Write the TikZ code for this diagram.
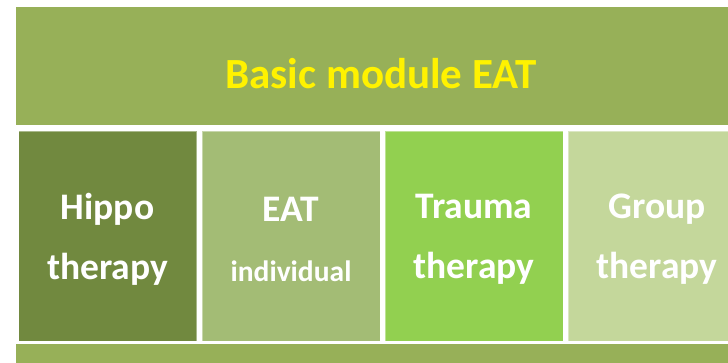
\documentclass[tikz,border=0pt]{standalone}
\usepackage{fontspec}
\setmainfont{Carlito}
\definecolor{bannergreen}{HTML}{97B058}
\definecolor{hippogreen}{HTML}{71893F}
\definecolor{eatgreen}{HTML}{A3BC75}
\definecolor{traumagreen}{HTML}{92D050}
\definecolor{groupgreen}{HTML}{C4D79B}
\begin{document}
\begin{tikzpicture}[x=1pt,y=1pt]
  \tikzset{
    tile/.style={shape=rectangle,minimum width=178pt,minimum height=210pt,inner sep=0pt,
      draw=white,draw opacity=0.4,line width=0.6pt},
    tiletext/.style={inner sep=0pt,text=white,align=center,
      font=\fontsize{37.5}{60}\selectfont\bfseries},
    band/.style={shape=rectangle,minimum width=730pt,inner sep=0pt,fill=bannergreen}
  }
  \useasboundingbox (0,0) rectangle (728,362);
  \clip (0,0) rectangle (728,362);
  % top banner
  \node[band,minimum height=118pt] (banner) at (381,296) {};
  \node[inner sep=0pt,text=yellow,font=\fontsize{43}{50}\selectfont\bfseries] (title) at ([yshift=-8pt]banner.center) {Basic module EAT};
  % the four therapy tiles
  \node[tile,fill=hippogreen] (hippo) at (107.5,126) {};
  \node[tile,fill=eatgreen] (eat) at (291,126) {};
  \node[tile,fill=traumagreen] (trauma) at (474,126) {};
  \node[tile,fill=groupgreen] (group) at (657,126) {};
  \node[tiletext] (hippotext) at ([yshift=-3pt]hippo.center) {Hippo\\therapy};
  \node[tiletext] (eattext) at ([yshift=-3pt]eat.center) {EAT\\{\fontsize{29.5}{54}\selectfont individual}};
  \node[tiletext] (traumatext) at ([yshift=-3pt]trauma.center) {Trauma\\therapy};
  \node[tiletext] (grouptext) at ([yshift=-3pt]group.center) {Group\\therapy};
  % bottom strip
  \node[band,minimum height=20pt] (bottom) at (381,8) {};
\end{tikzpicture}
\end{document}
